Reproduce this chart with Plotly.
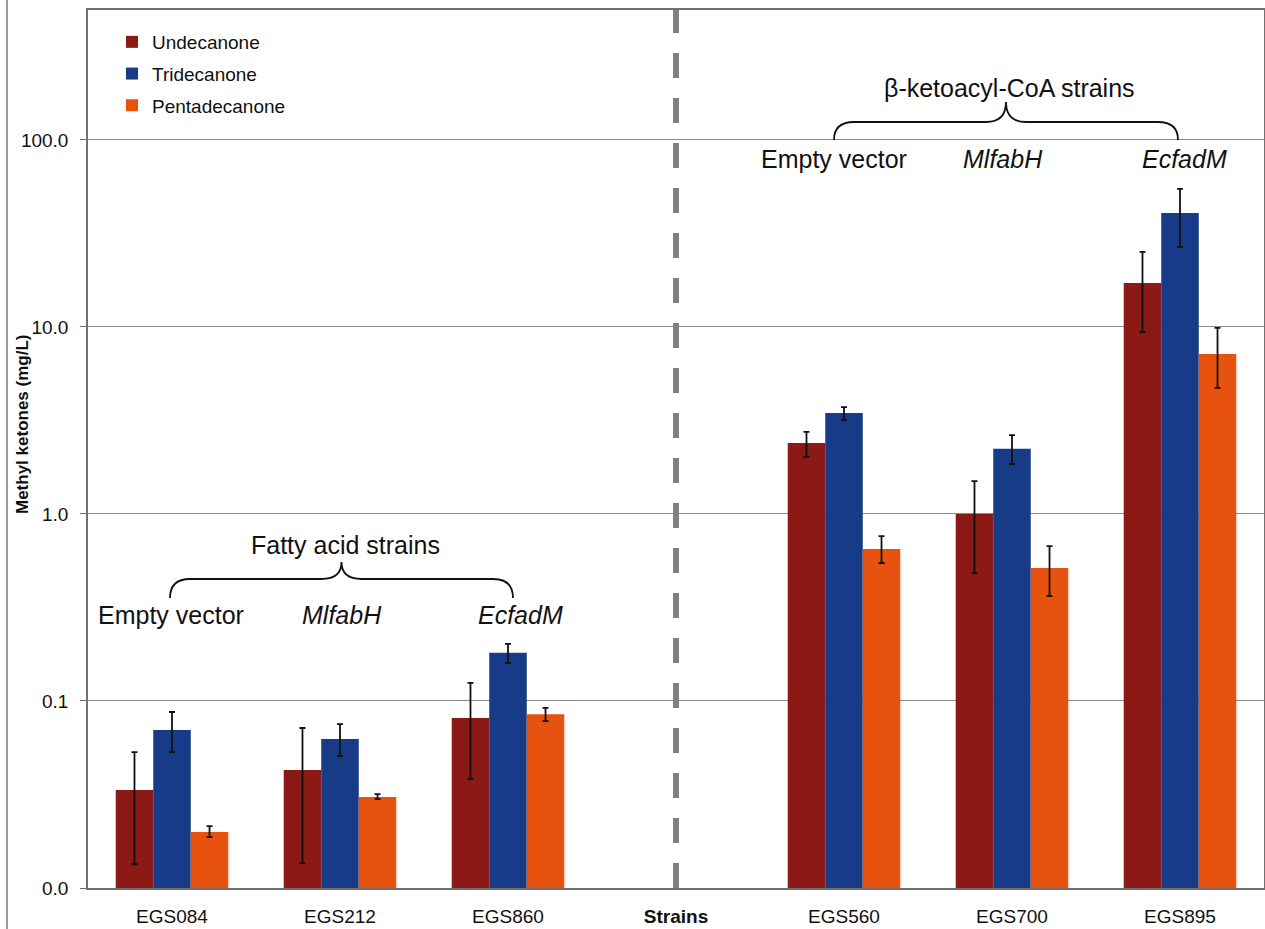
import plotly.graph_objects as go

# Strains (the "Strains" slot is an empty spacer between the two groups)
strains = ["EGS084", "EGS212", "EGS860", "Strains", "EGS560", "EGS700", "EGS895"]

# Methyl ketone titres (mg/L) with upper / lower error bounds
undecanone = [0.0334, 0.0428, 0.081, None, 2.40, 1.00, 17.2]
undecanone_hi = [0.0533, 0.0717, 0.125, None, 2.75, 1.50, 25.2]
undecanone_lo = [0.0134, 0.0136, 0.0383, None, 2.02, 0.483, 9.4]

tridecanone = [0.070, 0.0627, 0.181, None, 3.47, 2.23, 40.7]
tridecanone_hi = [0.0873, 0.0753, 0.202, None, 3.73, 2.64, 54.7]
tridecanone_lo = [0.0533, 0.0508, 0.160, None, 3.18, 1.85, 26.8]

pentadecanone = [0.0199, 0.0307, 0.085, None, 0.65, 0.514, 7.17]
pentadecanone_hi = [0.0214, 0.0318, 0.0918, None, 0.762, 0.674, 9.88]
pentadecanone_lo = [0.0187, 0.0299, 0.078, None, 0.547, 0.364, 4.72]

y_tickvals = [0.01, 0.1, 1, 10, 100]
y_ticktext = ["0.0", "0.1", "1.0", "10.0", "100.0"]

FONT = "Arial, 'Liberation Sans', sans-serif"
W, H = 1265, 929
ML, MR, MT, MB = 88, 1, 10, 41
PW, PH = W - ML - MR, H - MT - MB


def px(x):
    return (x - ML) / PW


def py(y):
    return (H - MB - y) / PH


def err(v, hi, lo):
    up = [None if a is None else h - a for a, h in zip(v, hi)]
    dn = [None if a is None else a - l for a, l in zip(v, lo)]
    return dict(type="data", symmetric=False, array=up, arrayminus=dn,
                color="#111111", thickness=1.8, width=3)


series = [
    ("Undecanone", undecanone, undecanone_hi, undecanone_lo, "#8B1915"),
    ("Tridecanone", tridecanone, tridecanone_hi, tridecanone_lo, "#183B87"),
    ("Pentadecanone", pentadecanone, pentadecanone_hi, pentadecanone_lo, "#E8520F"),
]

fig = go.Figure()
for name, v, hi, lo, col in series:
    fig.add_trace(go.Bar(
        x=strains, y=v, name=name, legendgroup=name,
        marker=dict(color=col, line=dict(width=0)),
        error_y=err(v, hi, lo),
    ))

fig.update_layout(
    width=W, height=H,
    margin=dict(l=ML, r=MR, t=MT, b=MB, autoexpand=False),
    paper_bgcolor="white", plot_bgcolor="white",
    barmode="group", bargap=0.33, bargroupgap=0,
    font=dict(family=FONT, size=19, color="#111111"),
    legend=dict(x=px(112), y=py(23), xanchor="left", yanchor="top",
                bgcolor="rgba(0,0,0,0)", font=dict(size=19),
                tracegroupgap=4, itemwidth=30),
    showlegend=True,
)

fig.update_xaxes(
    type="category", categoryorder="array", categoryarray=strains,
    tickvals=strains,
    ticktext=[("<b>%s</b>" % s) if s == "Strains" else s for s in strains],
    showline=True, linecolor="#707070", linewidth=1.5, mirror=True,
    ticks="", showgrid=False, ticklabelstandoff=10, automargin=False,
    tickfont=dict(size=19, family=FONT),
)
fig.update_yaxes(
    type="log", range=[-2, 2.695],
    tickvals=y_tickvals, ticktext=y_ticktext,
    showline=True, linecolor="#707070", linewidth=1.5, mirror=True,
    ticks="outside", ticklen=6, tickcolor="#707070", ticklabelstandoff=8,
    showgrid=True, gridcolor="#8a8a8a", gridwidth=1, automargin=False,
    tickfont=dict(size=19, family=FONT),
)

# Y-axis title
fig.add_annotation(text="<b>Methyl ketones (mg/L)</b>", x=px(22), y=py(425),
                   xref="paper", yref="paper", showarrow=False, textangle=-90,
                   xanchor="center", yanchor="middle",
                   font=dict(size=17, family=FONT, color="#111111"))

# Dashed separator through the spacer category
fig.add_shape(type="line", xref="x", yref="paper", x0="Strains", x1="Strains",
              y0=0, y1=1, line=dict(color="#808080", width=6, dash="25px,20px"))

# Outer frame line on the far left
fig.add_shape(type="line", xref="paper", yref="paper", x0=px(7), x1=px(7),
              y0=py(H), y1=py(0), line=dict(color="#9a9a9a", width=2))


def brace(x0, x1, y_end, y_bar, y_tip, r=20):
    xm = (x0 + x1) / 2
    pts = [
        ("M", [(x0, y_end)]),
        ("Q", [(x0, y_bar), (x0 + r, y_bar)]),
        ("L", [(xm - r, y_bar)]),
        ("Q", [(xm, y_bar), (xm, y_tip)]),
        ("Q", [(xm, y_bar), (xm + r, y_bar)]),
        ("L", [(x1 - r, y_bar)]),
        ("Q", [(x1, y_bar), (x1, y_end)]),
    ]
    path = ""
    for cmd, coords in pts:
        path += cmd + " ".join("%.5f,%.5f" % (px(a), py(b)) for a, b in coords) + " "
    return path.strip()


fig.add_shape(type="path", xref="paper", yref="paper",
              path=brace(170, 513, 598, 579, 562), line=dict(color="#111111", width=1.8))
fig.add_shape(type="path", xref="paper", yref="paper",
              path=brace(834, 1178, 140, 122, 102), line=dict(color="#111111", width=1.8))

labels = [
    ("Fatty acid strains", 345, 545),
    ("Empty vector", 171, 615),
    ("<i>MlfabH</i>", 342, 615),
    ("<i>EcfadM</i>", 520, 615),
    ("\u03b2-ketoacyl-CoA strains", 1009, 88),
    ("Empty vector", 834, 159),
    ("<i>MlfabH</i>", 1003, 159),
    ("<i>EcfadM</i>", 1184, 159),
]
for text, x, y in labels:
    fig.add_annotation(text=text, x=px(x), y=py(y), xref="paper", yref="paper",
                       showarrow=False, xanchor="center", yanchor="middle",
                       font=dict(size=25, family=FONT, color="#111111"))

fig.write_html("out.html")
